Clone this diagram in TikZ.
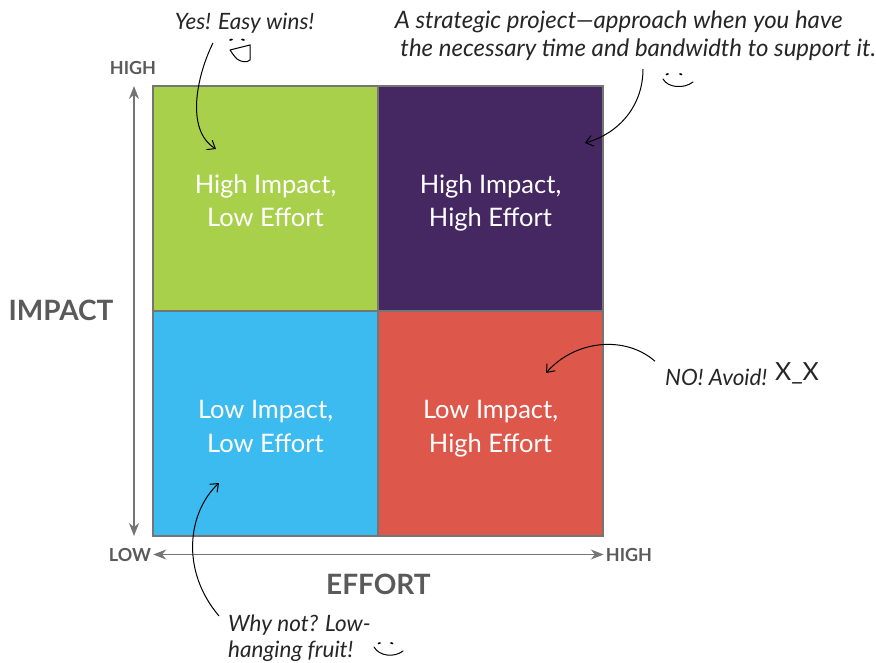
\documentclass[tikz,border=0pt]{standalone}
\usepackage{fontspec}
\setmainfont{Lato}
\usetikzlibrary{positioning}
\usetikzlibrary{arrows.meta}
\definecolor{cellgreen}{HTML}{A9D04A}
\definecolor{cellpurple}{HTML}{452761}
\definecolor{cellblue}{HTML}{3BBBEF}
\definecolor{cellred}{HTML}{DD574A}
\definecolor{axisgray}{HTML}{5A5A5A}
\definecolor{linegray}{HTML}{757575}
\newcommand{\celltext}[2]{\rule{0pt}{30pt}#1\\#2\rule[-6.5pt]{0pt}{6.5pt}}
\tikzstyle{cell}=[rectangle,draw=linegray,line width=1.1pt,minimum size=225pt,inner sep=0pt,text=white,align=center,font=\fontsize{25.5}{33.5}\selectfont]
\tikzstyle{axisedge} = [draw,linegray,line width=1.3pt,{Stealth[length=13pt,width=10pt]}-{Stealth[length=13pt,width=10pt]}]
\tikzstyle{axislabel} = [text=axisgray,inner sep=0pt,font=\fontsize{18}{18}\selectfont\bfseries]
\tikzstyle{axistitle} = [text=axisgray,inner sep=0pt,font=\fontsize{28}{28}\selectfont\bfseries]
\tikzstyle{note} = [inner sep=0pt,align=left,text=black!85,font=\fontsize{22.5}{26}\selectfont\itshape]
\tikzstyle{noteedge} = [draw,black,line width=1pt,-{Straight Barb[length=7pt,width=11pt]}]
\tikzstyle{face} = [draw,black,line width=1pt,line cap=round]
\tikzstyle{eyes} = [draw,black,line width=1.7pt,line cap=round]

\begin{document}
\begin{tikzpicture}[x=1pt,y=-1pt]
\useasboundingbox (0,0) rectangle (876,663);

	\def\cx{265.5};
	\def\dx{225};
	\def\cy{198.5};
	\def\dy{225};

%cells
	\foreach \pos/\name/\col/\first/\second in {{(\cx,\cy)/HL/cellgreen/High Impact,/Low Effort}, {(\cx+\dx,\cy)/HH/cellpurple/High Impact,/High Effort}, {(\cx,\cy+\dy)/LL/cellblue/Low Impact,/Low Effort}, {(\cx+\dx,\cy+\dy)/LH/cellred/Low Impact,/High Effort}}
		\node[cell,fill=\col] (\name) at \pos {\celltext{\first}{\second}};

%axes
	\node[axislabel] (impacthigh) at (133,67.5) {HIGH};
	\node[axislabel] (effortlow) at (130,554.5) {LOW};
	\node[axislabel] (efforthigh) at (629,554.5) {HIGH};
	\node[axistitle] (impact) at (61,310) {IMPACT};
	\node[axistitle] (effort) at (378.5,584) {EFFORT};
	\coordinate (impacttop) at (134,86);
	\coordinate (impactbottom) at (134,536);
	\path[axisedge] (impacttop) -- (impactbottom);
	\path[axisedge,shorten <=2pt,shorten >=2pt] (effortlow) -- (efforthigh);

%notes
	\node[note,anchor=south] (easy) at (244.5,34) {Yes! Easy wins!};
	\node[note,anchor=south,font=\fontsize{24}{28}\selectfont\itshape] (strategic) at (635.5,61) {A strategic project—approach when you have\\\ the necessary time and bandwidth to support it.};
	\node[note,anchor=base west] (avoid) at (665,385) {NO! Avoid!};
	\node[note,font=\fontsize{25}{27}\selectfont] (xx) at (797,373) {X\_X};
	\node[note,anchor=north west] (fruit) at (228,615) {Why not? Low-\\hanging fruit!};

%note arrows
	\coordinate (easytip) at (216,149);
	\coordinate (strategictip) at (585,143);
	\coordinate (avoidtip) at (546,373);
	\coordinate (fruittip) at (219,483);
	\path[noteedge] ([xshift=-31.5pt,yshift=-9pt]easy.south) .. controls (197,75) and (185,130) .. (easytip);
	\path[noteedge] ([xshift=7.5pt,yshift=-8pt]strategic.south) .. controls (643,105) and (620,133) .. (strategictip);
	\path[noteedge] ([xshift=-10pt,yshift=7pt]avoid.north west) .. controls (625,335) and (575,340) .. (avoidtip);
	\path[noteedge] ([xshift=-9pt,yshift=-1pt]fruit.north west) .. controls (180,570) and (188,512) .. (fruittip);

%faces
	\draw[eyes] (230,40) -- (232,39.5) (242,39.5) -- (244,40);
	\draw[face] (230,50) -- (250,45) -- (250,60) .. controls (247,63) and (241,62) .. (237,59) .. controls (234,56) and (232,53) .. (230,50);
	\draw[eyes] (666.5,74.5) -- (668,74) (680,74) -- (681.5,74.5);
	\draw[face] (663,79) .. controls (668,88) and (684,89) .. (693,82);
	\draw[eyes] (378.5,643.5) -- (380,643) (391,643) -- (392.5,643.5);
	\draw[face] (374,647) .. controls (379,656) and (394,658) .. (403,651);

\end{tikzpicture}
\end{document}
